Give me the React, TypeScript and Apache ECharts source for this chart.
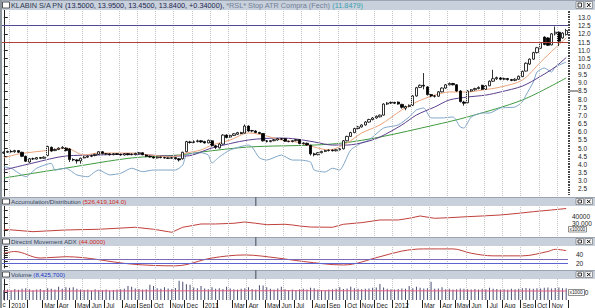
import React, { useEffect, useRef } from "react";
import * as echarts from "echarts";

const FIRST_BAR = Date.UTC(2009, 11, 18);
const WEEK_MS = 7 * 24 * 3600 * 1000;
const MONTHS = ["Jan", "Feb", "Mar", "Apr", "May", "Jun", "Jul", "Aug", "Sep", "Oct", "Nov", "Dec"];

// weekly bars: [open, close, low, high]
const priceRows: number[][] = [
  [4.70, 4.75, 4.65, 4.80], [4.75, 4.80, 4.70, 4.85], [4.80, 4.78, 4.72, 4.90], [4.78, 4.85, 4.72, 4.90], [4.85, 4.75, 4.70, 4.88],
  [4.75, 4.50, 4.45, 4.78], [4.50, 4.20, 4.15, 4.55], [4.15, 4.35, 4.10, 4.40], [4.35, 4.35, 4.28, 4.42], [4.33, 4.42, 4.30, 4.45],
  [4.42, 4.38, 4.33, 4.46], [4.38, 4.45, 4.35, 4.50], [4.55, 5.10, 4.50, 5.15], [5.05, 4.82, 4.78, 5.10], [4.85, 4.92, 4.82, 4.98],
  [4.92, 5.00, 4.88, 5.05], [5.00, 5.05, 4.95, 5.12], [5.00, 4.85, 4.80, 5.05], [4.95, 4.30, 4.15, 5.00], [4.30, 4.28, 4.20, 4.38],
  [4.28, 4.22, 4.05, 4.32], [4.22, 4.38, 4.05, 4.42], [4.40, 4.45, 4.38, 4.52], [4.45, 4.50, 4.40, 4.55], [4.50, 4.55, 4.45, 4.60],
  [4.55, 4.62, 4.50, 4.66], [4.62, 4.78, 4.58, 4.82], [4.78, 4.68, 4.62, 4.82], [4.66, 4.65, 4.60, 4.70], [4.65, 4.60, 4.55, 4.68],
  [4.60, 4.66, 4.56, 4.70], [4.66, 4.62, 4.58, 4.70], [4.62, 4.58, 4.54, 4.66], [4.58, 4.66, 4.55, 4.70], [4.66, 4.60, 4.56, 4.70],
  [4.60, 4.62, 4.56, 4.68], [4.60, 4.68, 4.56, 4.72], [4.66, 4.72, 4.62, 4.76], [4.72, 4.60, 4.56, 4.75], [4.58, 4.50, 4.45, 4.62],
  [4.50, 4.46, 4.42, 4.55], [4.46, 4.40, 4.36, 4.50], [4.40, 4.45, 4.36, 4.48], [4.45, 4.42, 4.38, 4.48], [4.42, 4.40, 4.36, 4.46],
  [4.40, 4.38, 4.34, 4.44], [4.38, 4.42, 4.34, 4.46], [4.42, 4.35, 4.30, 4.45], [4.35, 4.28, 4.18, 4.40], [4.35, 4.75, 4.30, 4.78],
  [4.78, 5.40, 4.75, 5.45], [5.38, 5.35, 5.28, 5.45], [5.35, 5.40, 5.30, 5.48], [5.40, 5.45, 5.35, 5.52], [5.45, 5.38, 5.32, 5.50],
  [5.40, 5.32, 5.28, 5.45], [5.32, 5.48, 5.30, 5.52], [5.45, 5.15, 5.10, 5.48], [5.15, 5.05, 4.95, 5.20], [5.02, 5.25, 4.98, 5.30],
  [5.25, 5.80, 5.22, 5.85], [5.80, 5.65, 5.60, 5.85], [5.68, 5.78, 5.64, 5.82], [5.78, 5.88, 5.74, 5.92], [5.85, 5.95, 5.82, 6.00],
  [5.95, 5.90, 5.85, 6.00], [5.92, 6.35, 5.90, 6.45], [6.35, 6.05, 6.00, 6.40], [6.05, 6.08, 5.98, 6.12], [6.05, 5.96, 5.92, 6.10],
  [5.96, 5.90, 5.86, 6.00], [5.90, 5.45, 5.40, 5.92], [5.45, 5.40, 5.35, 5.50], [5.40, 5.46, 5.36, 5.50], [5.46, 5.52, 5.42, 5.56],
  [5.50, 5.58, 5.46, 5.62], [5.58, 5.55, 5.50, 5.62], [5.58, 5.42, 5.38, 5.60], [5.42, 5.40, 5.36, 5.46], [5.40, 5.46, 5.36, 5.50],
  [5.46, 5.52, 5.42, 5.56], [5.52, 5.28, 5.24, 5.55], [5.28, 5.32, 5.22, 5.36], [5.30, 5.20, 5.15, 5.34], [5.18, 4.65, 4.55, 5.20],
  [4.65, 4.60, 4.50, 4.72], [4.60, 4.72, 4.56, 4.76], [4.72, 4.80, 4.68, 4.84], [4.80, 4.85, 4.76, 4.90], [4.85, 4.88, 4.80, 4.92],
  [4.88, 4.84, 4.80, 4.92], [4.84, 4.90, 4.80, 4.94], [4.90, 4.96, 4.86, 5.00], [4.96, 5.45, 4.92, 5.50], [5.45, 5.72, 5.42, 5.76],
  [5.72, 5.95, 5.70, 6.00], [5.95, 6.20, 5.92, 6.25], [6.20, 6.30, 6.15, 6.36], [6.30, 6.42, 6.26, 6.46], [6.42, 6.60, 6.38, 6.65],
  [6.60, 6.75, 6.56, 6.80], [6.75, 6.85, 6.70, 6.90], [6.85, 6.95, 6.80, 7.00], [6.92, 7.02, 6.88, 7.06], [7.02, 7.70, 7.00, 7.75],
  [7.70, 7.76, 7.64, 7.82], [7.76, 7.80, 7.70, 7.86], [7.80, 7.75, 7.70, 7.84], [7.82, 7.70, 7.66, 7.86], [7.68, 7.50, 7.42, 7.72],
  [7.45, 7.55, 7.32, 7.60], [7.55, 7.62, 7.50, 7.68], [7.62, 8.20, 7.58, 8.25], [8.20, 8.70, 8.15, 8.75], [8.72, 8.85, 8.68, 8.90],
  [8.85, 8.80, 8.60, 9.60], [8.75, 8.28, 8.22, 8.80], [8.28, 8.20, 8.12, 8.32], [8.20, 8.18, 8.10, 8.26], [8.18, 8.45, 8.15, 8.50],
  [8.45, 8.68, 8.42, 8.72], [8.68, 8.88, 8.64, 8.92], [8.88, 8.96, 8.84, 9.02], [8.96, 8.88, 8.84, 9.00], [8.88, 8.50, 8.45, 8.92],
  [8.50, 7.85, 7.80, 8.55], [7.82, 7.75, 7.60, 7.90], [7.78, 8.50, 7.75, 8.55], [8.50, 8.58, 8.46, 8.62], [8.58, 8.65, 8.52, 8.70],
  [8.65, 8.72, 8.60, 8.78], [8.85, 8.60, 8.56, 8.88], [8.60, 8.82, 8.58, 8.86], [8.82, 9.10, 8.80, 9.15], [9.10, 9.25, 9.05, 9.80],
  [9.25, 9.32, 9.18, 9.38], [9.30, 9.22, 9.16, 9.36], [9.22, 9.26, 9.16, 9.32], [9.26, 9.20, 9.14, 9.30], [9.20, 9.15, 9.10, 9.24],
  [9.15, 9.22, 9.10, 9.28], [9.22, 9.40, 9.18, 9.45], [9.38, 9.70, 9.35, 9.75], [9.72, 10.20, 9.70, 10.25], [10.15, 10.45, 10.10, 10.50],
  [10.45, 10.85, 10.42, 10.90], [10.85, 11.15, 10.80, 11.20], [11.12, 11.45, 11.08, 11.50], [11.80, 11.35, 11.30, 11.85], [11.75, 11.30, 11.25, 11.80],
  [11.32, 12.00, 11.30, 12.05], [12.00, 12.10, 11.90, 12.45], [12.10, 11.55, 11.25, 12.15], [11.75, 12.05, 11.70, 12.10], [11.95, 12.20, 11.90, 12.30],
];

// weekly volume, thousands of shares
const volumeK: number[] = [
  6200, 6600, 5900, 6800, 6400, 7000, 7400, 6700, 6100, 6500,
  6900, 6300, 7400, 7000, 6600, 8300, 7100, 8000, 7600, 8000,
  7000, 6600, 6200, 6500, 6000, 6700, 6300, 6100, 6600, 5900,
  6200, 6500, 6700, 7000, 8800, 8300, 7200, 6800, 6500, 6700,
  9500, 8800, 7400, 7000, 8000, 7200, 6800, 7500, 12000, 11400,
  9800, 9600, 7800, 7400, 8800, 7200, 6700, 8000, 7000, 7400,
  6800, 8300, 7200, 6700, 6500, 7000, 7400, 8000, 6800, 6600,
  9200, 9000, 8000, 7000, 6600, 7200, 8300, 6700, 6300, 6600,
  6200, 6700, 7000, 6500, 7600, 7400, 6600, 6300, 6100, 6500,
  6700, 7000, 8000, 6800, 7200, 8300, 7400, 7000, 6700, 7100,
  7200, 7600, 7800, 10000, 7800, 7000, 6700, 6500, 6800, 7200,
  7000, 8800, 7400, 8300, 7600, 7200, 7400, 11400, 7000, 7200,
  8000, 6700, 7000, 6500, 6700, 7200, 7000, 6700, 6500, 6800,
  6600, 7000, 6700, 7600, 7100, 6800, 6600, 6700, 6500, 7000,
  6700, 7100, 7300, 7500, 7200, 7000, 7400, 7200, 7600, 7800,
  7200, 7500, 7800, 7300, 7400,
];
const volumeAvgPts: number[][] = [[0, 5600], [40, 5700], [80, 5800], [120, 5700], [154, 5600]];

// indicator lines read at selected weeks: [weekIndex, value]
const maShortPts: number[][] = [
  [0, 4.40], [4, 4.64], [13, 4.89], [17, 5.01], [22, 4.58], [26, 4.70], [35, 4.70], [40, 4.58], [46, 4.46], [50, 4.70],
  [54, 4.89], [57, 5.19], [62, 5.50], [67, 5.93], [71, 5.80], [76, 5.50], [80, 5.38], [85, 5.07], [89, 4.89], [94, 5.32],
  [98, 5.93], [103, 6.42], [109, 7.34], [113, 7.83], [118, 8.25], [122, 8.44], [127, 8.44], [131, 8.56], [136, 8.74],
  [142, 9.17], [147, 10.27], [151, 11.13], [154, 11.75],
];
const maMidPts: number[][] = [
  [0, 3.66], [8, 4.09], [17, 4.52], [26, 4.58], [35, 4.64], [45, 4.52], [50, 4.52], [57, 5.01], [67, 5.50], [76, 5.62],
  [80, 5.56], [85, 5.38], [90, 5.19], [94, 5.19], [99, 5.38], [103, 5.68], [109, 6.42], [113, 7.03], [118, 7.52],
  [122, 7.95], [127, 8.13], [132, 8.25], [136, 8.44], [142, 8.80], [147, 9.40], [151, 9.97], [154, 10.55],
];
const maLongPts: number[][] = [
  [0, 3.17], [17, 3.78], [35, 4.40], [48, 4.58], [54, 4.76], [67, 5.07], [85, 5.19], [93, 5.32], [103, 5.68],
  [118, 6.42], [127, 6.91], [142, 7.95], [154, 9.30],
];
const stopAtrPts: number[][] = [
  [0, 3.86], [2, 3.77], [6, 3.25], [9, 3.77], [13, 4.07], [14, 3.66], [17, 3.77], [20, 3.36], [23, 3.25], [25, 3.56],
  [26, 3.66], [29, 3.36], [32, 3.46], [35, 3.77], [38, 3.56], [41, 3.66], [47, 3.66], [49, 3.97], [50, 4.58], [54, 4.72],
  [56, 4.58], [57, 4.09], [59, 4.46], [62, 4.89], [67, 5.19], [68, 5.07], [70, 4.40], [72, 4.27], [76, 4.58], [79, 4.27],
  [81, 4.27], [84, 4.15], [85, 3.66], [88, 3.54], [90, 3.77], [92, 3.66], [93, 3.97], [95, 4.89], [98, 5.32], [100, 5.50],
  [104, 6.23], [108, 6.42], [111, 6.91], [113, 7.34], [115, 7.46], [117, 6.85], [120, 6.85], [123, 6.91], [125, 6.30],
  [126, 6.23], [128, 6.91], [131, 7.15], [133, 7.15], [136, 7.46], [140, 7.52], [142, 7.83], [143, 8.25], [145, 9.05],
  [146, 9.66], [148, 9.91], [150, 9.66], [151, 9.97], [154, 10.27],
];
const adPts: number[][] = [
  [0, 21642], [8, 18060], [17, 20597], [26, 21642], [36, 24627], [41, 21642], [45, 18060], [46, 17165], [49, 24627],
  [54, 29552], [58, 29552], [63, 30597], [66, 32537], [69, 30597], [72, 28507], [77, 29104], [79, 28060], [81, 26567],
  [84, 25000], [90, 24627], [93, 29104], [98, 31567], [103, 35522], [108, 35522], [111, 38060], [114, 41492],
  [118, 38060], [122, 38955], [127, 40448], [131, 41492], [136, 42985], [141, 45522], [145, 47910], [150, 50448], [154, 52642],
];
const adxPts: number[][] = [
  [0, 44], [3, 48], [10, 33], [17, 36], [35, 19], [47, 15], [57, 33], [66, 40], [75, 33], [82, 25], [93, 17],
  [103, 36], [109, 49], [115, 54], [123, 54], [128, 44], [134, 38], [142, 38], [149, 48], [151, 53], [154, 50],
];

const priceTicks = [13.0, 12.5, 12.0, 11.5, 11.0, 10.5, 10.0, 9.5, 9.0, 8.5, 8.0, 7.5, 7.0, 6.5, 6.0, 5.5, 5.0, 4.5, 4.0, 3.5, 3.0, 2.5];
const priceLevels = [12.5, 11.5];
const priceMarker = 8.5;
const adTicks = [20000, 30000, 40000, 50000];
const adUpperLabels = [40000];
const adLowerLabels = [30000];
const adxTicks = [15, 20, 25, 30, 35, 40, 45, 50, 55, 60];
const adxLabels = [20, 40];
const adxLevels = [30, 22];
const volTicks = [5000, 10000];
const volLabels = [5000];

const FONT = "Liberation Sans, Arial, sans-serif";
const MAIN_TITLE_SIZE = 7.3;
const SUB_TITLE_SIZE = 6.2;

export default function App() {
  const ref = useRef<HTMLDivElement>(null);
  useEffect(() => {
    document.body.style.margin = "0";
    if (!ref.current) return;
    const chart = echarts.init(ref.current, undefined, { renderer: "svg" });
    const n = priceRows.length;
    const xMin = -0.5, xMax = n - 0.5;

    const tickXs: number[] = [];
    const labelXs: number[] = [];
    const labelMap: Record<string, string> = {};
    for (let i = 1; i < n; i++) {
      const d = new Date(FIRST_BAR + i * WEEK_MS);
      const p = new Date(FIRST_BAR + (i - 1) * WEEK_MS);
      if (d.getUTCMonth() !== p.getUTCMonth()) {
        const m = d.getUTCMonth();
        const x = i - 0.5;
        tickXs.push(x);
        if (m !== 1) {
          labelXs.push(x);
          labelMap[x.toFixed(1)] = m === 0 ? String(d.getUTCFullYear()) : MONTHS[m];
        }
      }
    }
    tickXs.push(xMax);

    const gridXs: number[] = [];
    for (let x = 1.5; x < xMax; x += 5) gridXs.push(x);
    const vGrid = gridXs.map((x) => ({ xAxis: x }));
    const gridLineStyle = { type: "dotted" as const, color: "#c4c4c4", width: 1 };

    const minor: number[] = [];
    for (let v = 2.2; v <= 13.4; v += 0.1) minor.push(Math.round(v * 10) / 10);

    const xAxes = [0, 1, 2, 3].map((g) => ({
      type: "value" as const,
      gridIndex: g,
      min: xMin,
      max: xMax,
      show: g === 3,
      axisLine: { show: false },
      splitLine: { show: false },
      axisTick: g === 3 ? { show: true, customValues: tickXs, length: 8, lineStyle: { color: "#222", width: 1 } } : { show: false },
      axisLabel: g === 3
        ? {
            show: true,
            customValues: labelXs,
            formatter: (v: number) => labelMap[Number(v).toFixed(1)] || "",
            align: "left" as const,
            padding: [0, 0, 0, 2],
            margin: 2,
            fontSize: 6.3,
            fontFamily: FONT,
            color: "#1a1a1a",
            hideOverlap: false,
          }
        : { show: false },
    }));

    const rightAxis = (grid: number, min: number, max: number, ticks: number[], labels: number[], margin: number, fmt: (v: number) => string) => ({
      type: "value" as const,
      gridIndex: grid,
      position: "right" as const,
      min,
      max,
      axisLine: { show: true, lineStyle: { color: "#222", width: 1 } },
      axisTick: { show: true, customValues: ticks, length: 4, lineStyle: { color: "#222" } },
      axisLabel: { show: true, customValues: labels, formatter: fmt, margin, fontSize: 6.5, lineHeight: 6, fontFamily: FONT, color: "#1a1a1a", hideOverlap: false },
      splitLine: { show: false },
    });

    const barH = [
      { y: 0, h: 10 },
      { y: 197, h: 9 },
      { y: 237, h: 9 },
      { y: 270, h: 9 },
    ];
    const graphics: any[] = [];
    barH.forEach((b, k) => {
      graphics.push({ type: "rect", z: 10, shape: { x: 0, y: b.y, width: 595, height: b.h }, style: { fill: "#c8d0db" } });
      graphics.push({ type: "line", z: 10, shape: { x1: 0, y1: b.y + 0.5, x2: 595, y2: b.y + 0.5 }, style: { stroke: "#9aa4b2", lineWidth: 1 } });
      graphics.push({ type: "rect", z: 11, shape: { x: 2.5, y: b.y + 2, width: 7, height: b.h - 4 }, style: { fill: "#fff", stroke: "#333", lineWidth: 0.8 } });
      graphics.push({ type: "rect", z: 11, shape: { x: 576, y: b.y + 1.5, width: 7.5, height: b.h - 3 }, style: { fill: "#f4f4f4", stroke: "#666", lineWidth: 0.6 } });
      graphics.push({ type: "rect", z: 12, shape: { x: 578, y: b.y + 3, width: 3.5, height: b.h - 6 }, style: { fill: "none", stroke: "#111", lineWidth: 0.8 } });
      graphics.push({ type: "rect", z: 11, shape: { x: 585, y: b.y + 1.5, width: 7.5, height: b.h - 3 }, style: { fill: "#f4f4f4", stroke: "#666", lineWidth: 0.6 } });
      graphics.push({ type: "line", z: 12, shape: { x1: 587, y1: b.y + 3, x2: 590.5, y2: b.y + b.h - 3 }, style: { stroke: "#111", lineWidth: 1 } });
      graphics.push({ type: "line", z: 12, shape: { x1: 590.5, y1: b.y + 3, x2: 587, y2: b.y + b.h - 3 }, style: { stroke: "#111", lineWidth: 1 } });
      if (k > 0) graphics.push({ type: "rect", z: 11, shape: { x: 255, y: b.y, width: 1.5, height: b.h }, style: { fill: "#6e7784" } });
    });
    const rb = (size: number, fill: string) => ({ fontSize: size, fontFamily: FONT, fill });
    const titles = [
      {
        y: 5,
        size: MAIN_TITLE_SIZE,
        text: "{n|KLABIN S/A PN }{v|(13.5000, 13.9500, 13.4500, 13.8400, +0.34000)}{n|, }{s|*RSL* Stop ATR Compra (Fech)}{t| (11.8479)}",
        rich: { n: rb(MAIN_TITLE_SIZE, "#2e3a52"), v: rb(MAIN_TITLE_SIZE, "#1c2450"), s: rb(MAIN_TITLE_SIZE, "#6f7f98"), t: rb(MAIN_TITLE_SIZE, "#3a9fb0") },
      },
      { y: 201.5, size: SUB_TITLE_SIZE, text: "{n|Accumulation/Distribution }{r|(526,419,104.0)}", rich: { n: rb(SUB_TITLE_SIZE, "#36455c"), r: rb(SUB_TITLE_SIZE, "#d02828") } },
      { y: 241.5, size: SUB_TITLE_SIZE, text: "{n|Directnl Movement ADX }{r|(44.0000)}", rich: { n: rb(SUB_TITLE_SIZE, "#36455c"), r: rb(SUB_TITLE_SIZE, "#d02828") } },
      { y: 274.5, size: SUB_TITLE_SIZE, text: "{n|Volume }{b|(8,425,700)}", rich: { n: rb(SUB_TITLE_SIZE, "#36455c"), b: rb(SUB_TITLE_SIZE, "#2038c8") } },
    ];
    titles.forEach((t) => {
      graphics.push({ type: "text", z: 12, x: 11, y: t.y, style: { text: t.text, rich: t.rich, verticalAlign: "middle", align: "left", fontSize: t.size, fontFamily: FONT } });
    });
    graphics.push({ type: "rect", z: 13, shape: { x: 0, y: 0, width: 2, height: 308 }, style: { fill: "#8e969e" } });
    graphics.push({ type: "rect", z: 12, shape: { x: 568.5, y: 226.5, width: 18, height: 5.5 }, style: { fill: "#fff", stroke: "#444", lineWidth: 0.6 } });
    graphics.push({ type: "text", z: 13, x: 569.5, y: 229.3, style: { text: "x10000", fontSize: 4.8, fontFamily: FONT, fill: "#222", verticalAlign: "middle" } });
    graphics.push({ type: "rect", z: 12, shape: { x: 568.5, y: 289.5, width: 16, height: 6 }, style: { fill: "#fff", stroke: "#444", lineWidth: 0.6 } });
    graphics.push({ type: "text", z: 13, x: 569.5, y: 292.6, style: { text: "x1000", fontSize: 4.8, fontFamily: FONT, fill: "#222", verticalAlign: "middle" } });
    graphics.push({ type: "text", z: 12, x: 2.5, y: 304.5, style: { text: "c", fontSize: 6.3, fontFamily: FONT, fill: "#1a1a1a", verticalAlign: "middle" } });

    const lineS = (data: number[][], color: string, xi: number, yi: number, smooth: number | boolean, z = 2) => ({
      type: "line" as const,
      xAxisIndex: xi,
      yAxisIndex: yi,
      data,
      symbol: "none",
      smooth,
      z,
      lineStyle: { color, width: 1 },
      silent: true,
    });
    const noLabel = { show: false };

    chart.setOption({
      animation: false,
      backgroundColor: "#ffffff",
      grid: [
        { left: 2, right: 27, top: 10, height: 186 },
        { left: 2, right: 27, top: 206, height: 30 },
        { left: 2, right: 27, top: 246, height: 22 },
        { left: 2, right: 27, top: 279, height: 21 },
      ],
      xAxis: xAxes,
      yAxis: [
        rightAxis(0, 2.07, 13.46, priceTicks, priceTicks, 10, (v) => Number(v).toFixed(1)),
        {
          type: "value", gridIndex: 0, position: "right", min: 2.07, max: 13.46,
          axisLine: { show: false }, axisLabel: { show: false }, splitLine: { show: false },
          axisTick: { show: true, customValues: minor, length: 2, lineStyle: { color: "#444" } },
        },
        rightAxis(1, 11600, 56400, adTicks, adUpperLabels, 4, (v) => String(v)),
        rightAxis(2, 10, 60.7, adxTicks, adxLabels, 8, (v) => String(v)),
        rightAxis(3, 0, 13125, volTicks, volLabels, 6, (v) => String(v)),
        {
          type: "value", gridIndex: 1, position: "right", min: 11600, max: 56400,
          axisLine: { show: false }, axisTick: { show: false }, splitLine: { show: false },
          axisLabel: { show: true, customValues: adLowerLabels, margin: 4, fontSize: 6.5, lineHeight: 6, fontFamily: FONT, color: "#1a1a1a", hideOverlap: false },
        },
      ],
      graphic: graphics,
      series: [
        {
          type: "candlestick",
          xAxisIndex: 0,
          yAxisIndex: 0,
          z: 4,
          barWidth: 2.8,
          data: priceRows.map((r, i) => [i, r[0], r[1], r[2], r[3]]),
          itemStyle: { color: "#ffffff", color0: "#000000", borderColor: "#000000", borderColor0: "#000000", borderWidth: 0.8 },
          markLine: {
            silent: true,
            symbol: ["none", "none"],
            label: noLabel,
            data: [
              ...vGrid.map((d) => ({ ...d, lineStyle: gridLineStyle })),
              { yAxis: priceLevels[0], lineStyle: { type: "solid", color: "#4a4a8e", width: 1 } },
              { yAxis: priceLevels[1], lineStyle: { type: "solid", color: "#b0403c", width: 1 } },
            ],
          },
        },
        lineS(maLongPts, "#3f9a3f", 0, 0, 0.3),
        lineS(stopAtrPts, "#7fa6c8", 0, 0, 0.2),
        lineS(maMidPts, "#5b3f8e", 0, 0, 0.3),
        lineS(maShortPts, "#eba27a", 0, 0, 0.3),
        {
          ...lineS(adPts, "#c0403c", 1, 2, false),
          markLine: { silent: true, symbol: ["none", "none"], label: noLabel, lineStyle: gridLineStyle, data: vGrid },
        },
        {
          ...lineS(adxPts, "#c0403c", 2, 3, 0.35, 3),
          markLine: {
            silent: true,
            symbol: ["none", "none"],
            label: noLabel,
            data: [
              ...vGrid.map((d) => ({ ...d, lineStyle: gridLineStyle })),
              { yAxis: adxLevels[0], lineStyle: { type: "solid", color: "#7a6ab8", width: 1 } },
              { yAxis: adxLevels[1], lineStyle: { type: "solid", color: "#5a64d0", width: 1 } },
            ],
          },
        },
        {
          type: "bar",
          xAxisIndex: 3,
          yAxisIndex: 4,
          barWidth: 1,
          silent: true,
          data: volumeK.map((v, i) => [i, v]),
          itemStyle: { color: "#4a5070" },
          markLine: { silent: true, symbol: ["none", "none"], label: noLabel, lineStyle: gridLineStyle, data: vGrid },
        },
        lineS(volumeAvgPts, "#e85a82", 3, 4, false, 5),
      ],
    });

    const my = chart.convertToPixel({ yAxisIndex: 0 } as any, priceMarker) as unknown as number;
    if (typeof my === "number" && isFinite(my)) {
      chart.setOption({
        graphic: [
          ...graphics,
          { type: "line", z: 12, shape: { x1: 568, y1: my, x2: 578, y2: my }, style: { stroke: "#a0a0a0", lineWidth: 2 } },
        ],
      });
    }

    return () => chart.dispose();
  }, []);
  return <div ref={ref} style={{ width: 595, height: 308 }} />;
}
